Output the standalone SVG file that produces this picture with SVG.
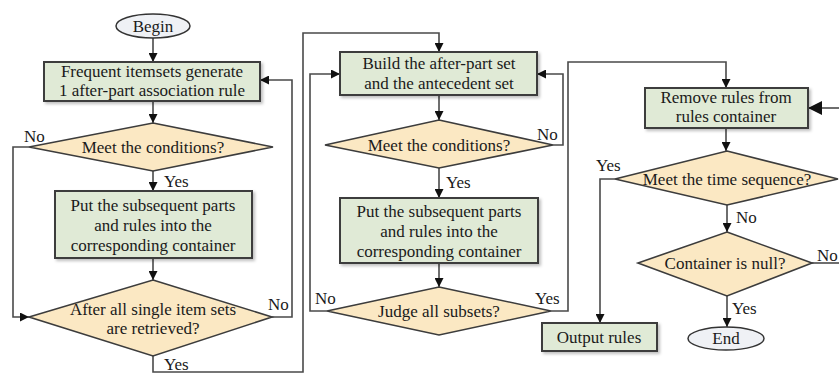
<svg xmlns="http://www.w3.org/2000/svg" width="839" height="376" viewBox="0 0 839 376">
<defs>
<marker id="ah" viewBox="0 0 10 10" refX="10" refY="5" markerWidth="9" markerHeight="9" markerUnits="userSpaceOnUse" orient="auto">
<path d="M0,0 L10,5 L0,10 Z" fill="#111"/>
</marker>
<marker id="ahb" viewBox="0 0 10 10" refX="10" refY="5" markerWidth="14" markerHeight="14" markerUnits="userSpaceOnUse" orient="auto">
<path d="M0,0 L10,5 L0,10 Z" fill="#111"/>
</marker>
<filter id="sh" x="-10%" y="-10%" width="125%" height="140%">
<feDropShadow dx="2" dy="2" stdDeviation="1.5" flood-color="#000" flood-opacity="0.25"/>
</filter>
</defs>
<style>
.box{fill:#e0ead6;stroke:#3c3c3c;stroke-width:2;filter:url(#sh)}
.dia{fill:#fbe8c3;stroke:#3c3c3c;stroke-width:1.6}
.ell{fill:#eff1f5;stroke:#333;stroke-width:1.5}
.c{fill:none;stroke:#4a4a4a;stroke-width:1.6}
.a{marker-end:url(#ah)}
text{font-family:"Liberation Serif","Times New Roman",serif;font-size:17px;fill:#1a1a1a}
.m{text-anchor:middle}
</style>
<g id="connectors">
<path class="c a" d="M153,38 V62"/>
<path class="c a" d="M153,101 V123"/>
<path class="c a" d="M153,171 V191"/>
<path class="c a" d="M153,258 V280"/>
<path class="c a" d="M29,147 H13 V317 H29"/>
<path class="c a" d="M272,317 H292 V80 H260"/>
<path class="c a" d="M153,356 V372 H303 V33 H439 V52"/>
<path class="c a" d="M439,95 V120"/>
<path class="c a" d="M439,168 V198"/>
<path class="c a" d="M439,263 V287"/>
<path class="c a" d="M553,145 H563 V74 H537"/>
<path class="c a" d="M327,311 H310 V74 H340"/>
<path class="c a" d="M551,311 H568 V62 H726 V88"/>
<path class="c" d="M839,108 H808" marker-end="url(#ahb)"/>
<path class="c a" d="M726,128 V151"/>
<path class="c a" d="M615,179 H600 V323"/>
<path class="c a" d="M727,205 V232"/>
<path class="c" d="M812,263 H839"/>
<path class="c a" d="M727,296 V327"/>
<text x="24" y="142">No</text>
<text x="164" y="187">Yes</text>
<text x="268" y="310">No</text>
<text x="164" y="370">Yes</text>
<text x="537" y="140">No</text>
<text x="446" y="188">Yes</text>
<text x="315" y="304">No</text>
<text x="535" y="304">Yes</text>
<text x="596" y="171">Yes</text>
<text x="736" y="223">No</text>
<text x="817" y="261">No</text>
<text x="732" y="314">Yes</text>
</g>
<g id="begin">
<ellipse class="ell" cx="153" cy="26" rx="37" ry="12"/>
<text class="m" x="153" y="32">Begin</text>
</g>
<g id="gen-rule">
<rect class="box" x="44" y="62" width="216" height="39"/>
<text class="m" x="152" y="77">Frequent itemsets generate</text>
<text class="m" x="152" y="96">1 after-part association rule</text>
</g>
<g id="cond1">
<polygon class="dia" points="153,123 273,147 153,171 29,147"/>
<text class="m" x="153" y="153">Meet the conditions?</text>
</g>
<g id="put1">
<rect class="box" x="55" y="191" width="197" height="67"/>
<text class="m" x="153" y="211">Put the subsequent parts</text>
<text class="m" x="153" y="231">and rules into the</text>
<text class="m" x="153" y="251">corresponding container</text>
</g>
<g id="retrieved">
<polygon class="dia" points="153,280 272,317 153,356 29,317"/>
<text class="m" x="153" y="315">After all single item sets</text>
<text class="m" x="153" y="334">are retrieved?</text>
</g>
<g id="build">
<rect class="box" x="340" y="52" width="197" height="43"/>
<text class="m" x="439" y="69">Build the after-part set</text>
<text class="m" x="439" y="89">and the antecedent set</text>
</g>
<g id="cond2">
<polygon class="dia" points="439,120 553,145 439,168 325,145"/>
<text class="m" x="439" y="151">Meet the conditions?</text>
</g>
<g id="put2">
<rect class="box" x="340" y="198" width="198" height="65"/>
<text class="m" x="439" y="217">Put the subsequent parts</text>
<text class="m" x="439" y="237">and rules into the</text>
<text class="m" x="439" y="257">corresponding container</text>
</g>
<g id="judge">
<polygon class="dia" points="439,287 551,311 439,335 327,311"/>
<text class="m" x="439" y="317">Judge all  subsets?</text>
</g>
<g id="remove">
<rect class="box" x="645" y="88" width="163" height="40"/>
<text class="m" x="726" y="103">Remove rules from</text>
<text class="m" x="726" y="122">rules  container</text>
</g>
<g id="time">
<polygon class="dia" points="727,151 838,179 727,205 615,179"/>
<text class="m" x="727" y="185">Meet the time sequence?</text>
</g>
<g id="null">
<polygon class="dia" points="727,232 812,263 727,296 638,263"/>
<text class="m" x="725" y="269">Container is null?</text>
</g>
<g id="output">
<rect class="box" x="542" y="323" width="115" height="28"/>
<text class="m" x="599" y="343">Output rules</text>
</g>
<g id="end">
<ellipse class="ell" cx="726" cy="338.5" rx="38" ry="11.5"/>
<text class="m" x="726" y="344">End</text>
</g>
</svg>
